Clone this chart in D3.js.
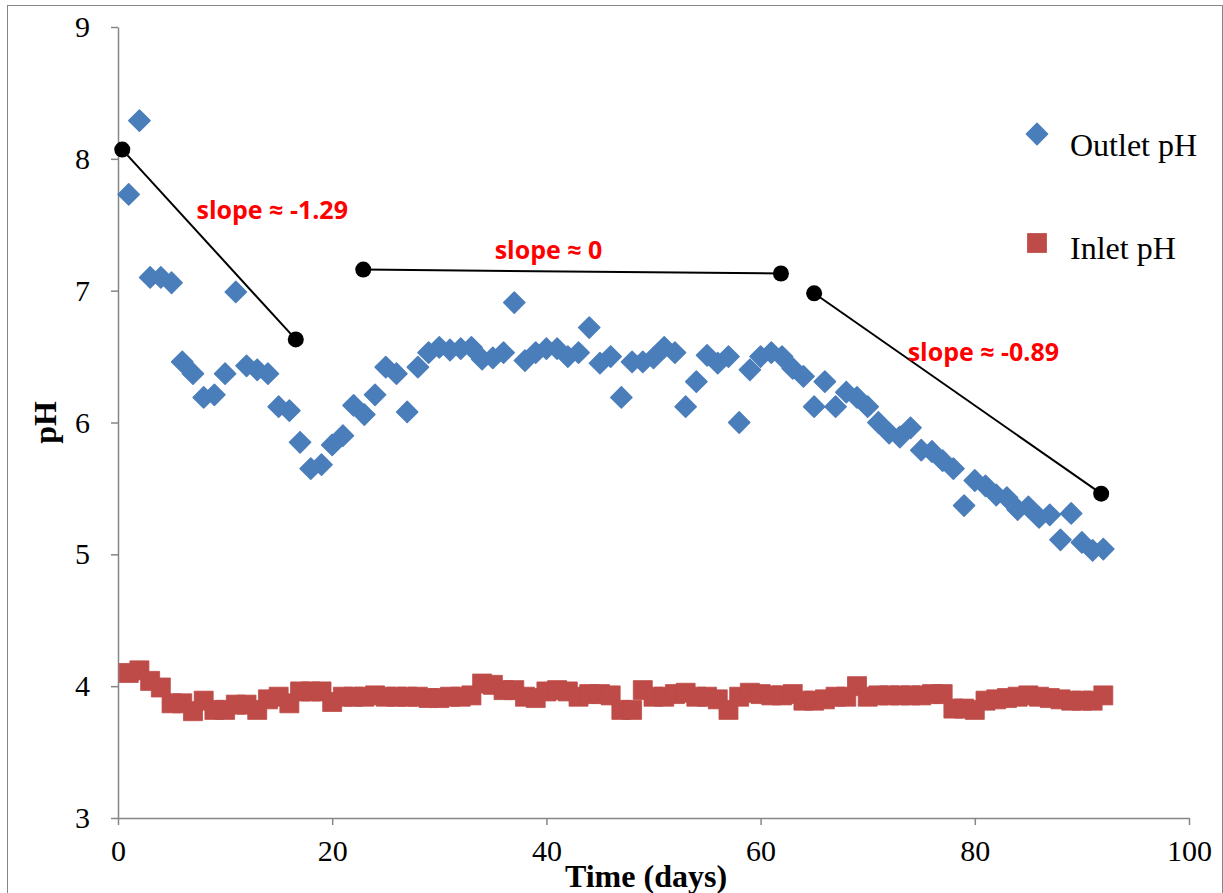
<!DOCTYPE html>
<html>
<head>
<meta charset="utf-8">
<script src="https://cdn.jsdelivr.net/npm/d3@7"></script>
<style>
  html, body { margin: 0; padding: 0; background: #fff; }
  svg { display: block; }
</style>
</head>
<body>
<svg id="chart" width="1223" height="893"></svg>
<script>
// ---------------- DATA ----------------
const days = d3.range(1, 93); // 1..92

const outletPH = [
  7.73, 8.29, 7.10, 7.10, 7.06, 6.46, 6.37, 6.19, 6.21, 6.37,
  6.99, 6.43, 6.40, 6.37, 6.12, 6.09, 5.85, 5.65, 5.68, 5.83,
  5.90, 6.13, 6.06, 6.21, 6.42, 6.37, 6.08, 6.42, 6.53, 6.57,
  6.55, 6.56, 6.57, 6.48, 6.49, 6.53, 6.91, 6.47, 6.53, 6.56,
  6.56, 6.50, 6.53, 6.72, 6.45, 6.50, 6.19, 6.46, 6.46, 6.49,
  6.57, 6.53, 6.12, 6.31, 6.51, 6.45, 6.50, 6.00, 6.40, 6.50,
  6.53, 6.50, 6.41, 6.35, 6.12, 6.31, 6.12, 6.23, 6.19, 6.12,
  6.00, 5.92, 5.89, 5.96, 5.79, 5.78, 5.71, 5.65, 5.37, 5.56,
  5.52, 5.45, 5.43, 5.34, 5.36, 5.28, 5.30, 5.11, 5.31, 5.09,
  5.03, 5.04
];

const inletPH = [
  4.10, 4.12, 4.04, 3.99, 3.87, 3.87, 3.81, 3.89, 3.82, 3.82,
  3.86, 3.86, 3.82, 3.90, 3.92, 3.87, 3.96, 3.96, 3.96, 3.88,
  3.92, 3.92, 3.92, 3.93, 3.92, 3.92, 3.92, 3.92, 3.91, 3.91,
  3.92, 3.92, 3.93, 4.02, 4.01, 3.97, 3.97, 3.92, 3.91, 3.96,
  3.97, 3.96, 3.92, 3.94, 3.94, 3.93, 3.82, 3.82, 3.97, 3.92,
  3.92, 3.94, 3.95, 3.92, 3.92, 3.90, 3.82, 3.92, 3.95, 3.94,
  3.93, 3.93, 3.94, 3.89, 3.89, 3.90, 3.92, 3.92, 4.00, 3.92,
  3.93, 3.93, 3.93, 3.93, 3.93, 3.94, 3.94, 3.83, 3.83, 3.82,
  3.89, 3.90, 3.91, 3.92, 3.93, 3.92, 3.91, 3.90, 3.89, 3.89,
  3.89, 3.93
];

const xTicks = [0, 20, 40, 60, 80, 100];
const yTicks = [3, 4, 5, 6, 7, 8, 9];

const trendLines = [
  [[0.4, 8.07], [16.6, 6.63]],
  [[22.9, 7.16], [61.9, 7.13]],
  [[65.0, 6.98], [91.8, 5.46]]
];
const slopeLabels = [
  { text: "slope \u2248 -1.29", day: 14.4, ph: 7.61 },
  { text: "slope \u2248 0",     day: 40.2, ph: 7.31 },
  { text: "slope \u2248 -0.89", day: 80.8, ph: 6.53 }
];
const seriesNames = ["Outlet pH", "Inlet pH"];

// ---------------- LAYOUT ----------------
const svg = d3.select("#chart");
const axisColor = "#868686";
const blue = "#4A7EBB";
const red = "#BE4B48";

const x = d3.scaleLinear().domain([0, 100]).range([118, 1189]);
const y = d3.scaleLinear().domain([3, 9]).range([818, 27]);

// outer chart border
svg.append("rect")
  .attr("x", 7.5).attr("y", 5.5)
  .attr("width", 1222 - 7).attr("height", 900)
  .attr("fill", "none").attr("stroke", axisColor).attr("stroke-width", 1);

// axes
const xAxis = d3.axisBottom(x).tickValues(xTicks).tickSize(7).tickSizeOuter(0).tickFormat(d3.format("d"));
const yAxis = d3.axisLeft(y).tickValues(yTicks).tickSize(7).tickSizeOuter(0).tickFormat(d3.format("d"));

const gx = svg.append("g").attr("transform", `translate(0,${y(3)})`).call(xAxis);
const gy = svg.append("g").attr("transform", `translate(${x(0)},0)`).call(yAxis);

[gx, gy].forEach(g => {
  g.select(".domain").attr("stroke", axisColor).attr("stroke-width", 1.5);
  g.selectAll(".tick line").attr("stroke", axisColor).attr("stroke-width", 1.5);
  g.selectAll(".tick text")
    .attr("fill", "#000")
    .style("font-family", "'Liberation Serif', 'Times New Roman', serif")
    .style("font-size", "30px");
});
gx.selectAll(".tick text").attr("dy", "0.71em").attr("y", 22);
gy.selectAll(".tick text").attr("x", -28);

// axis titles
svg.append("text")
  .attr("x", 646).attr("y", 887)
  .attr("text-anchor", "middle")
  .style("font-family", "'Liberation Serif', 'Times New Roman', serif")
  .style("font-size", "32px").style("font-weight", "bold")
  .text("Time (days)");

svg.append("text")
  .attr("transform", `translate(56,${y(6)}) rotate(-90)`)
  .attr("text-anchor", "middle")
  .style("font-family", "'Liberation Serif', 'Times New Roman', serif")
  .style("font-size", "32px").style("font-weight", "bold")
  .text("pH");

// markers
const diamond = d3.symbol().type(d3.symbolSquare).size(225);
const square = d3.symbol().type(d3.symbolSquare).size(361);

svg.append("g").selectAll("path")
  .data(days.map((d, i) => [d, inletPH[i]]))
  .join("path")
  .attr("d", square)
  .attr("transform", d => `translate(${x(d[0])},${y(d[1])})`)
  .attr("fill", red).attr("stroke", red).attr("stroke-width", 0.8).attr("stroke-linejoin", "round");

svg.append("g").selectAll("path")
  .data(days.map((d, i) => [d, outletPH[i]]))
  .join("path")
  .attr("d", diamond)
  .attr("transform", d => `translate(${x(d[0])},${y(d[1])}) rotate(45)`)
  .attr("fill", blue).attr("stroke", blue).attr("stroke-width", 1.5).attr("stroke-linejoin", "round");

// trend lines
const line = d3.line().x(d => x(d[0])).y(d => y(d[1]));
const tg = svg.append("g");
trendLines.forEach(seg => {
  tg.append("path").attr("d", line(seg))
    .attr("fill", "none").attr("stroke", "#000").attr("stroke-width", 2);
  tg.selectAll(null).data(seg).join("circle")
    .attr("cx", d => x(d[0])).attr("cy", d => y(d[1])).attr("r", 8)
    .attr("fill", "#000");
});

// slope labels
svg.append("g").selectAll("text")
  .data(slopeLabels).join("text")
  .attr("x", d => x(d.day)).attr("y", d => y(d.ph))
  .attr("dy", "0.35em")
  .attr("text-anchor", "middle")
  .attr("fill", "#FF0000")
  .style("font-family", "'Open Sans', sans-serif")
  .style("font-weight", "bold").style("font-size", "25px")
  .text(d => d.text);

// legend
const lg = svg.append("g");
lg.append("path").attr("d", diamond)
  .attr("transform", "translate(1037,134) rotate(45)")
  .attr("fill", blue).attr("stroke", blue).attr("stroke-width", 1.5).attr("stroke-linejoin", "round");
lg.append("path").attr("d", square)
  .attr("transform", "translate(1037,243)")
  .attr("fill", red).attr("stroke", red).attr("stroke-width", 0.8);
lg.selectAll("text").data(seriesNames).join("text")
  .attr("x", 1070).attr("y", (d, i) => i === 0 ? 145 : 248)
  .attr("dy", "0.35em")
  .style("font-family", "'Liberation Serif', 'Times New Roman', serif")
  .style("font-size", "32px")
  .text(d => d);
</script>
</body>
</html>
